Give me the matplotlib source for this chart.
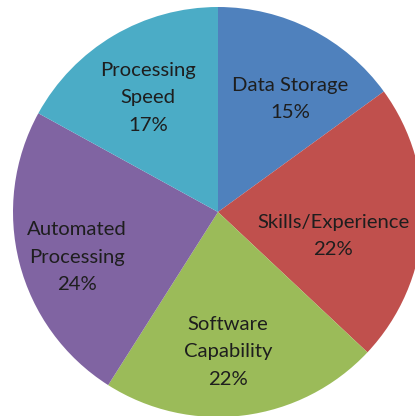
import matplotlib
matplotlib.use("Agg")
import matplotlib.pyplot as plt

categories = ["Data Storage", "Skills/Experience", "Software\nCapability",
              "Automated\nProcessing", "Processing\nSpeed"]
values = [15, 22, 22, 24, 17]
colors = ["#4F81BD", "#C0504D", "#9BBB59", "#8064A2", "#4BACC6"]

# label centre positions (pixels from top-left), layout only
label_pos = [(290, 99), (333, 236), (228, 352), (77, 257), (148, 98)]

W, H = 415, 416
fig = plt.figure(figsize=(W / 100, H / 100), dpi=100)
ax = fig.add_axes([0, 0, 1, 1])

cx, cy, r = 218, 212, 205
ax.pie(values, colors=colors, startangle=90, counterclock=False,
       center=(cx, -cy), radius=r, frame=True,
       wedgeprops=dict(linewidth=0))
ax.set_xlim(0, W)
ax.set_ylim(-H, 0)
ax.set_aspect("equal")
ax.axis("off")

for cat, v, (x, y) in zip(categories, values, label_pos):
    ax.text(x, -y, f"{cat}\n{v}%", ha="center", va="center",
            fontsize=14.6, family="Lato", color="#1e1e1e", linespacing=1.75)

fig.savefig("out.png", dpi=100)
